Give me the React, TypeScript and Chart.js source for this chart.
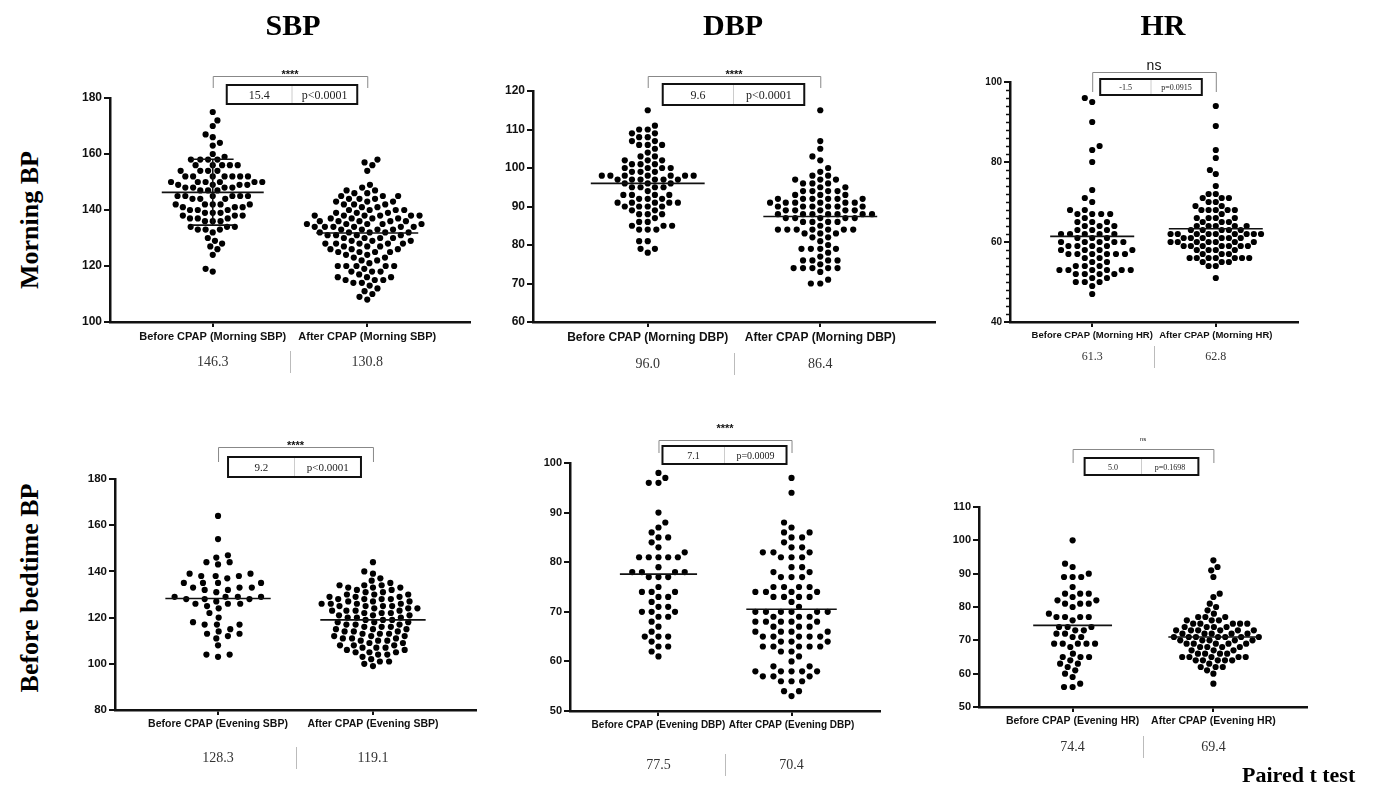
import React, { useEffect, useRef } from "react";
import { Chart, registerables } from "chart.js";
Chart.register(...registerables);

const SERIF = '"Liberation Serif", "Times New Roman", serif';
const SANS = '"Liberation Sans", Arial, sans-serif';

// ---------------- data ----------------
const SBP_AM_BEFORE = [175, 172, 170, 167, 166, 164, 163, 160, 159, 158, 158, 158, 158, 156, 156, 156, 156, 156, 154, 154, 154, 154, 152, 152, 152, 152, 152, 152, 152, 150, 150, 150, 150, 150, 150, 149, 149, 149, 149, 148, 148, 148, 148, 147, 147, 147, 145, 145, 145, 145, 145, 145, 144, 144, 144, 142, 142, 142, 142, 142, 141, 141, 141, 140, 140, 140, 139, 139, 139, 138, 138, 138, 137, 137, 137, 136, 136, 136, 134, 134, 134, 133, 133, 133, 132, 130, 129, 128, 127, 126, 124, 119, 118];
const SBP_AM_AFTER = [158, 157, 156, 154, 149, 148, 147, 147, 146, 146, 145, 145, 145, 144, 144, 144, 143, 143, 143, 142, 142, 142, 141, 141, 140, 140, 140, 140, 139, 139, 139, 138, 138, 138, 138, 138, 138, 137, 137, 137, 137, 136, 136, 136, 136, 136, 135, 135, 135, 135, 135, 134, 134, 134, 134, 134, 134, 133, 133, 133, 133, 132, 132, 132, 132, 132, 131, 131, 131, 131, 130, 130, 130, 130, 129, 129, 129, 128, 128, 128, 128, 128, 127, 127, 127, 126, 126, 126, 125, 125, 125, 125, 124, 124, 123, 123, 122, 122, 121, 120, 120, 120, 120, 120, 119, 118, 118, 118, 117, 116, 116, 116, 115, 115, 115, 114, 114, 113, 112, 111, 110, 109, 108];
const DBP_AM_BEFORE = [115, 111, 110, 110, 109, 109, 108, 108, 107, 107, 106, 106, 106, 105, 104, 103, 103, 102, 102, 102, 101, 101, 101, 100, 100, 100, 100, 99, 99, 99, 98, 98, 98, 98, 98, 98, 98, 97, 97, 97, 97, 97, 97, 96, 96, 96, 95, 95, 95, 95, 94, 93, 93, 93, 93, 92, 92, 92, 91, 91, 91, 91, 91, 90, 90, 90, 90, 89, 89, 88, 88, 88, 87, 86, 86, 85, 85, 85, 84, 84, 84, 81, 81, 79, 79, 78];
const DBP_AM_AFTER = [115, 107, 105, 103, 102, 100, 99, 98, 98, 97, 97, 97, 96, 96, 96, 95, 95, 94, 94, 94, 94, 93, 93, 93, 92, 92, 92, 92, 92, 92, 91, 91, 91, 91, 91, 91, 90, 90, 90, 90, 90, 90, 89, 89, 89, 89, 89, 88, 88, 88, 88, 88, 88, 88, 87, 87, 87, 87, 87, 86, 86, 86, 86, 85, 84, 84, 84, 84, 84, 84, 84, 83, 83, 83, 82, 82, 81, 80, 79, 79, 79, 79, 78, 77, 76, 76, 76, 76, 75, 74, 74, 74, 74, 74, 73, 71, 70, 70];
const HR_AM_BEFORE = [96, 95, 90, 84, 83, 80, 73, 71, 70, 68, 68, 67, 67, 67, 67, 66, 65, 65, 65, 64, 64, 64, 63, 63, 63, 62, 62, 62, 62, 62, 61, 61, 61, 60, 60, 60, 60, 60, 59, 59, 59, 59, 58, 58, 58, 58, 57, 57, 57, 57, 57, 57, 56, 56, 55, 55, 54, 54, 54, 53, 53, 53, 53, 53, 53, 52, 52, 52, 52, 51, 51, 50, 50, 50, 49, 47];
const HR_AM_AFTER = [94, 89, 83, 81, 78, 77, 74, 72, 72, 71, 71, 71, 70, 70, 69, 69, 68, 68, 68, 68, 68, 67, 66, 66, 66, 66, 65, 65, 65, 64, 64, 64, 64, 64, 63, 63, 63, 63, 63, 62, 62, 62, 62, 62, 62, 62, 62, 62, 61, 61, 61, 61, 61, 61, 60, 60, 60, 60, 60, 60, 60, 59, 59, 59, 59, 59, 59, 59, 58, 58, 58, 58, 57, 57, 57, 56, 56, 56, 56, 56, 56, 56, 55, 55, 55, 54, 54, 51];
const SBP_PM_BEFORE = [164, 154, 147, 146, 144, 144, 143, 139, 139, 138, 138, 138, 137, 135, 135, 135, 135, 133, 133, 133, 132, 132, 131, 129, 129, 129, 129, 128, 128, 128, 127, 126, 126, 126, 125, 124, 122, 120, 118, 117, 117, 117, 115, 114, 113, 113, 112, 111, 108, 104, 104, 103];
const SBP_PM_AFTER = [144, 140, 139, 137, 136, 135, 134, 134, 134, 133, 133, 133, 132, 132, 131, 131, 130, 130, 130, 129, 129, 129, 128, 128, 128, 128, 127, 127, 127, 126, 126, 126, 126, 125, 125, 125, 125, 124, 124, 124, 123, 123, 123, 123, 122, 122, 122, 121, 121, 121, 120, 120, 120, 119, 119, 119, 118, 118, 118, 117, 117, 117, 116, 116, 116, 115, 115, 115, 114, 114, 114, 113, 113, 113, 112, 112, 112, 111, 111, 111, 110, 110, 110, 109, 109, 108, 108, 108, 107, 107, 107, 106, 106, 105, 105, 105, 104, 104, 103, 102, 101, 101, 100, 99];
const DBP_PM_BEFORE = [98, 97, 96, 96, 90, 88, 87, 86, 85, 85, 84, 83, 82, 81, 81, 81, 81, 81, 79, 78, 78, 78, 78, 77, 77, 77, 75, 74, 74, 74, 73, 73, 72, 71, 71, 70, 70, 70, 69, 69, 68, 67, 66, 65, 65, 65, 64, 63, 63, 62, 61];
const DBP_PM_AFTER = [97, 94, 88, 87, 86, 86, 85, 85, 84, 83, 83, 82, 82, 82, 81, 81, 81, 79, 79, 78, 78, 77, 77, 77, 75, 75, 75, 75, 74, 74, 74, 74, 73, 73, 73, 73, 72, 71, 70, 70, 70, 70, 70, 70, 69, 69, 69, 68, 68, 68, 68, 68, 67, 67, 67, 66, 66, 66, 66, 65, 65, 65, 65, 65, 64, 64, 64, 63, 63, 63, 63, 63, 62, 62, 61, 60, 59, 59, 58, 58, 58, 58, 58, 57, 57, 57, 56, 56, 56, 54, 54, 53];
const HR_PM_BEFORE = [100, 93, 92, 90, 89, 89, 89, 86, 84, 84, 84, 83, 82, 82, 81, 81, 81, 80, 78, 77, 77, 77, 77, 76, 74, 74, 74, 73, 73, 72, 72, 71, 71, 69, 69, 69, 69, 69, 68, 66, 65, 65, 65, 64, 63, 63, 62, 61, 60, 59, 57, 56, 56];
const HR_PM_AFTER = [94, 92, 91, 89, 84, 83, 81, 80, 79, 78, 77, 77, 77, 76, 76, 76, 75, 75, 75, 75, 75, 74, 74, 74, 74, 73, 73, 73, 73, 73, 73, 72, 72, 72, 72, 72, 71, 71, 71, 71, 71, 71, 71, 70, 70, 70, 70, 70, 69, 69, 69, 69, 69, 68, 68, 68, 68, 67, 67, 67, 66, 66, 66, 66, 65, 65, 65, 65, 65, 64, 64, 64, 64, 64, 63, 62, 62, 62, 61, 60, 57];

// center lines (value of the horizontal line drawn for each group)
const CENTER_SBP_AM = [146.3, 131.8];
const CENTER_DBP_AM = [96.0, 87.4];
const CENTER_HR_AM = [61.4, 63.3];
const CENTER_SBP_PM = [128.3, 119.0];
const CENTER_DBP_PM = [77.6, 70.5];
const CENTER_HR_PM = [74.5, 71.0];
const ERR_SBP_AM_BEFORE = [134.6, 158.1];

// printed means
const MEAN_SBP_AM = ["146.3", "130.8"];
const MEAN_DBP_AM = ["96.0", "86.4"];
const MEAN_HR_AM = ["61.3", "62.8"];
const MEAN_SBP_PM = ["128.3", "119.1"];
const MEAN_DBP_PM = ["77.5", "70.4"];
const MEAN_HR_PM = ["74.4", "69.4"];

// test results: [difference, p-value, significance]
const TEST_SBP_AM = ["15.4", "p<0.0001", "****"];
const TEST_DBP_AM = ["9.6", "p<0.0001", "****"];
const TEST_HR_AM = ["-1.5", "p=0.0915", "ns"];
const TEST_SBP_PM = ["9.2", "p<0.0001", "****"];
const TEST_DBP_PM = ["7.1", "p=0.0009", "****"];
const TEST_HR_PM = ["5.0", "p=0.1698", "ns"];

const CATS_SBP_AM = ["Before CPAP (Morning SBP)", "After CPAP (Morning SBP)"];
const CATS_DBP_AM = ["Before CPAP (Morning DBP)", "After CPAP (Morning DBP)"];
const CATS_HR_AM = ["Before CPAP (Morning HR)", "After CPAP (Morning HR)"];
const CATS_SBP_PM = ["Before CPAP (Evening SBP)", "After CPAP (Evening SBP)"];
const CATS_DBP_PM = ["Before CPAP (Evening DBP)", "After CPAP (Evening DBP)"];
const CATS_HR_PM = ["Before CPAP (Evening HR)", "After CPAP (Evening HR)"];

// ---------------- layout ----------------
type Cfg = {
  groups: number[][]; center: number[]; err?: number[] | null; means: string[]; test: string[]; cats: string[];
  left: number; right: number; top: number; bottom: number; min: number; max: number; step: number; minor?: number;
  yFont: number; xFont: number; meanFont: number; meanY: number;
  sigFont: number; sigSans: boolean; sigBase: number; brTop: number; brLeg: number; boxTop: number; boxBot: number;
  inL: number; inR: number; boxFont: number; hw: number[]; sx: number[];
};

const PANELS: Cfg[] = [
  { groups: [SBP_AM_BEFORE, SBP_AM_AFTER], center: CENTER_SBP_AM, err: ERR_SBP_AM_BEFORE, means: MEAN_SBP_AM, test: TEST_SBP_AM, cats: CATS_SBP_AM,
    left: 110, right: 470, top: 98, bottom: 322, min: 100, max: 180, step: 20, yFont: 12, xFont: 11, meanFont: 14, meanY: 40,
    sigFont: 11, sigSans: false, sigBase: 2, brTop: -22, brLeg: -10, boxTop: -13, boxBot: 6, inL: 14, inR: 10, boxFont: 12, hw: [0.33, 0.33], sx: [7.8, 8.5] },
  { groups: [DBP_AM_BEFORE, DBP_AM_AFTER], center: CENTER_DBP_AM, means: MEAN_DBP_AM, test: TEST_DBP_AM, cats: CATS_DBP_AM,
    left: 533, right: 935, top: 91, bottom: 322, min: 60, max: 120, step: 10, yFont: 12, xFont: 12, meanFont: 14, meanY: 42,
    sigFont: 11, sigSans: false, sigBase: 2, brTop: -15, brLeg: -3, boxTop: -7, boxBot: 14, inL: 15, inR: 16, boxFont: 12, hw: [0.33, 0.33], sx: [8.6, 9.4] },
  { groups: [HR_AM_BEFORE, HR_AM_AFTER], center: CENTER_HR_AM, means: MEAN_HR_AM, test: TEST_HR_AM, cats: CATS_HR_AM,
    left: 1010, right: 1298, top: 82, bottom: 322, min: 40, max: 100, step: 20, minor: 2, yFont: 10, xFont: 9.5, meanFont: 12, meanY: 35,
    sigFont: 14, sigSans: true, sigBase: -2, brTop: -10, brLeg: 10, boxTop: -3, boxBot: 13, inL: 8, inR: 14, boxFont: 8, hw: [0.34, 0.38], sx: [9.0, 7.2] },
  { groups: [SBP_PM_BEFORE, SBP_PM_AFTER], center: CENTER_SBP_PM, means: MEAN_SBP_PM, test: TEST_SBP_PM, cats: CATS_SBP_PM,
    left: 115, right: 476, top: 479, bottom: 710, min: 80, max: 180, step: 20, yFont: 11.5, xFont: 10.5, meanFont: 14, meanY: 48,
    sigFont: 11, sigSans: false, sigBase: 2, brTop: -32, brLeg: -17, boxTop: -22, boxBot: -2, inL: 10, inR: 12, boxFont: 11, hw: [0.34, 0.34], sx: [12.3, 9.2] },
  { groups: [DBP_PM_BEFORE, DBP_PM_AFTER], center: CENTER_DBP_PM, means: MEAN_DBP_PM, test: TEST_DBP_PM, cats: CATS_DBP_PM,
    left: 570, right: 880, top: 463, bottom: 711, min: 50, max: 100, step: 10, yFont: 11, xFont: 10, meanFont: 14, meanY: 54,
    sigFont: 11, sigSans: false, sigBase: -8, brTop: -23, brLeg: -10, boxTop: -17, boxBot: 1, inL: 4, inR: 5, boxFont: 10, hw: [0.29, 0.34], sx: [9.7, 10.6] },
  { groups: [HR_PM_BEFORE, HR_PM_AFTER], center: CENTER_HR_PM, means: MEAN_HR_PM, test: TEST_HR_PM, cats: CATS_HR_PM,
    left: 979, right: 1307, top: 507, bottom: 707, min: 50, max: 110, step: 10, yFont: 11, xFont: 10.5, meanFont: 14, meanY: 40,
    sigFont: 6, sigSans: true, sigBase: -8, brTop: -58, brLeg: -44, boxTop: -49, boxBot: -32, inL: 12, inR: 15, boxFont: 8, hw: [0.28, 0.32], sx: [8.6, 7.2] },
];

const PAD_TOP = 80;
const Y_W = 60;
const X_H = 75;
const PAD_R = 12;
const X_MIN = 0.335;
const X_MAX = 2.665;
const DOT_R = 3.1;
const SEP_Y = 7.0;

// beeswarm layout: elliptical exclusion (sx horizontally, sy vertically), in pixels
function swarm(values: number[], pxPerUnit: number, sx: number, sy: number): number[] {
  const k = sx / sy;
  const idx = values.map((_, i) => i).sort((a, b) => values[a] - values[b]);
  const placed: { x: number; y: number }[] = [];
  const out = new Array(values.length).fill(0);
  let flip = false;
  for (const i of idx) {
    const y = values[i] * pxPerUnit;
    const iv: [number, number][] = [];
    for (const p of placed) {
      const dy = Math.abs(p.y - y);
      if (dy < sy) {
        const w = Math.sqrt(sy * sy - dy * dy);
        iv.push([p.x - w, p.x + w]);
      }
    }
    const cands = [0];
    iv.forEach(([a, b]) => cands.push(a, b));
    cands.sort((a, b) => Math.abs(a) - Math.abs(b) || (flip ? b - a : a - b));
    let chosen = 0;
    for (const c of cands) {
      if (iv.every(([a, b]) => c <= a + 1e-6 || c >= b - 1e-6)) { chosen = c; break; }
    }
    if (chosen !== 0) flip = !flip;
    placed.push({ x: chosen, y });
    out[i] = chosen * k;
  }
  return out;
}

function Panel({ cfg }: { cfg: Cfg }) {
  const ref = useRef<HTMLCanvasElement>(null);
  const w = Y_W + (cfg.right - cfg.left) + PAD_R;
  const h = PAD_TOP + (cfg.bottom - cfg.top) + X_H;

  useEffect(() => {
    const annot = {
      id: "annot",
      afterDraw(chart: any) {
        const ctx = chart.ctx;
        const xs = chart.scales.x;
        const ca = chart.chartArea;
        const x1 = xs.getPixelForValue(1);
        const x2 = xs.getPixelForValue(2);
        const mid = (x1 + x2) / 2;
        const t = ca.top;
        ctx.save();
        if (cfg.minor) {
          const ys = chart.scales.y;
          ctx.strokeStyle = "#111";
          ctx.lineWidth = 1.5;
          for (let v = cfg.min; v <= cfg.max; v += cfg.minor) {
            if (v % cfg.step === 0) continue;
            const py = Math.round(ys.getPixelForValue(v)) + 0.5;
            ctx.beginPath();
            ctx.moveTo(ca.left - 4, py);
            ctx.lineTo(ca.left, py);
            ctx.stroke();
          }
        }
        // bracket
        ctx.strokeStyle = "#888";
        ctx.lineWidth = 1;
        ctx.beginPath();
        ctx.moveTo(x1 + 0.5, t + cfg.brLeg);
        ctx.lineTo(x1 + 0.5, t + cfg.brTop + 0.5);
        ctx.lineTo(x2 + 0.5, t + cfg.brTop + 0.5);
        ctx.lineTo(x2 + 0.5, t + cfg.brLeg);
        ctx.stroke();
        // significance
        ctx.fillStyle = "#111";
        ctx.textAlign = "center";
        ctx.textBaseline = "alphabetic";
        ctx.font = cfg.sigSans ? `${cfg.sigFont}px ${SANS}` : `bold ${cfg.sigFont}px ${SANS}`;
        ctx.fillText(cfg.test[2], mid, t + cfg.brTop + cfg.sigBase);
        // box
        const bx1 = x1 + cfg.inL;
        const bx2 = x2 - cfg.inR;
        const by1 = t + cfg.boxTop;
        const by2 = t + cfg.boxBot;
        ctx.fillStyle = "#fff";
        ctx.fillRect(bx1, by1, bx2 - bx1, by2 - by1);
        const bm = (bx1 + bx2) / 2;
        ctx.strokeStyle = "#ccc";
        ctx.lineWidth = 1;
        ctx.beginPath();
        ctx.moveTo(bm, by1);
        ctx.lineTo(bm, by2);
        ctx.stroke();
        ctx.strokeStyle = "#111";
        ctx.lineWidth = 2;
        ctx.strokeRect(bx1, by1, bx2 - bx1, by2 - by1);
        ctx.fillStyle = "#222";
        ctx.font = `${cfg.boxFont}px ${SERIF}`;
        ctx.textBaseline = "middle";
        ctx.fillText(cfg.test[0], (bx1 + bm) / 2, (by1 + by2) / 2 + 1);
        ctx.fillText(cfg.test[1], (bm + bx2) / 2, (by1 + by2) / 2 + 1);
        // means row
        const my = ca.bottom + cfg.meanY;
        ctx.font = `${cfg.meanFont}px ${SERIF}`;
        ctx.fillStyle = "#333";
        ctx.fillText(cfg.means[0], x1, my);
        ctx.fillText(cfg.means[1], x2, my);
        ctx.strokeStyle = "#bbb";
        ctx.lineWidth = 1;
        ctx.beginPath();
        ctx.moveTo(Math.round(mid) + 0.5, my - 11);
        ctx.lineTo(Math.round(mid) + 0.5, my + 11);
        ctx.stroke();
        ctx.restore();
      },
    };

    const lineDs = (pts: { x: number; y: number }[]) => ({
      data: pts, showLine: true, borderColor: "#111", borderWidth: 1.6, pointRadius: 0, order: 0, fill: false,
    });
    const datasets: any[] = [];
    cfg.center.forEach((c, gi) => {
      const cx = gi + 1;
      datasets.push(lineDs([{ x: cx - cfg.hw[gi], y: c }, { x: cx + cfg.hw[gi], y: c }]));
    });
    if (cfg.err) {
      datasets.push(lineDs([{ x: 1, y: cfg.err[0] }, { x: 1, y: cfg.err[1] }]));
      datasets.push(lineDs([{ x: 1 - 0.135, y: cfg.err[0] }, { x: 1 + 0.135, y: cfg.err[0] }]));
      datasets.push(lineDs([{ x: 1 - 0.135, y: cfg.err[1] }, { x: 1 + 0.135, y: cfg.err[1] }]));
    }
    const dotStart = datasets.length;
    cfg.groups.forEach((g, gi) => {
      datasets.push({
        data: g.map((v) => ({ x: gi + 1, y: v })),
        pointRadius: DOT_R, pointBackgroundColor: "#000", pointBorderWidth: 0, pointBorderColor: "#000",
        showLine: false, order: 1,
      });
    });

    const chart = new Chart(ref.current as HTMLCanvasElement, {
      type: "scatter",
      data: { datasets },
      options: {
        responsive: false,
        animation: false,
        devicePixelRatio: 1,
        events: [],
        layout: { padding: { top: PAD_TOP, right: PAD_R, left: 0, bottom: 0 }, autoPadding: false } as any,
        plugins: { legend: { display: false }, tooltip: { enabled: false } },
        scales: {
          x: {
            type: "linear", min: X_MIN, max: X_MAX,
            afterFit: (s: any) => { s.height = X_H; },
            afterBuildTicks: (s: any) => { s.ticks = [{ value: 1 }, { value: 2 }]; },
            ticks: {
              autoSkip: false, maxRotation: 0, padding: 3, color: "#111",
              font: { family: SANS, size: cfg.xFont, weight: "bold" },
              callback: (v: any) => (v === 1 ? cfg.cats[0] : v === 2 ? cfg.cats[1] : ""),
            },
            grid: { display: true, drawOnChartArea: false, drawTicks: true, tickLength: 5, color: "#111", lineWidth: 2 },
            border: { display: true, color: "#111", width: 2.5 },
          },
          y: {
            type: "linear", min: cfg.min, max: cfg.max,
            afterFit: (s: any) => { s.width = Y_W; },
            ticks: { stepSize: cfg.step, padding: 2, color: "#111", font: { family: SANS, size: cfg.yFont, weight: "bold" } },
            grid: { display: true, drawOnChartArea: false, drawTicks: true, tickLength: 6, color: "#111", lineWidth: 2 },
            border: { display: true, color: "#111", width: 2.5 },
          },
        },
      } as any,
      plugins: [annot],
    });

    const ys: any = chart.scales.y;
    const xsc: any = chart.scales.x;
    const pxU = Math.abs(ys.getPixelForValue(cfg.min + 1) - ys.getPixelForValue(cfg.min));
    const pxC = xsc.getPixelForValue(2) - xsc.getPixelForValue(1);
    cfg.groups.forEach((g, gi) => {
      const off = swarm(g, pxU, cfg.sx[gi], SEP_Y);
      chart.data.datasets[dotStart + gi].data = g.map((v, i) => ({ x: gi + 1 + off[i] / pxC, y: v })) as any;
    });
    chart.update("none");
    return () => chart.destroy();
  }, []);

  return (
    <canvas
      ref={ref}
      width={w}
      height={h}
      style={{ position: "absolute", left: cfg.left - Y_W, top: cfg.top - PAD_TOP, width: w, height: h }}
    />
  );
}

const titleStyle: React.CSSProperties = {
  position: "absolute", fontFamily: SERIF, fontWeight: "bold", color: "#000", whiteSpace: "nowrap", lineHeight: 1,
};

export default function App() {
  return (
    <div style={{ position: "absolute", left: 0, top: 0, width: 1375, height: 786, background: "#fff", overflow: "hidden" }}>
      {PANELS.map((p, i) => (
        <Panel key={i} cfg={p} />
      ))}
      <div style={{ ...titleStyle, left: 293, top: 10, fontSize: 30, transform: "translateX(-50%)" }}>SBP</div>
      <div style={{ ...titleStyle, left: 733, top: 10, fontSize: 30, transform: "translateX(-50%)" }}>DBP</div>
      <div style={{ ...titleStyle, left: 1163, top: 10, fontSize: 30, transform: "translateX(-50%)" }}>HR</div>
      <div style={{ ...titleStyle, left: 30, top: 220, fontSize: 26, transform: "translate(-50%, -50%) rotate(-90deg)" }}>Morning BP</div>
      <div style={{ ...titleStyle, left: 30, top: 588, fontSize: 26, transform: "translate(-50%, -50%) rotate(-90deg)" }}>Before bedtime BP</div>
      <div style={{ ...titleStyle, left: 1242, top: 764, fontSize: 22 }}>Paired t test</div>
    </div>
  );
}
